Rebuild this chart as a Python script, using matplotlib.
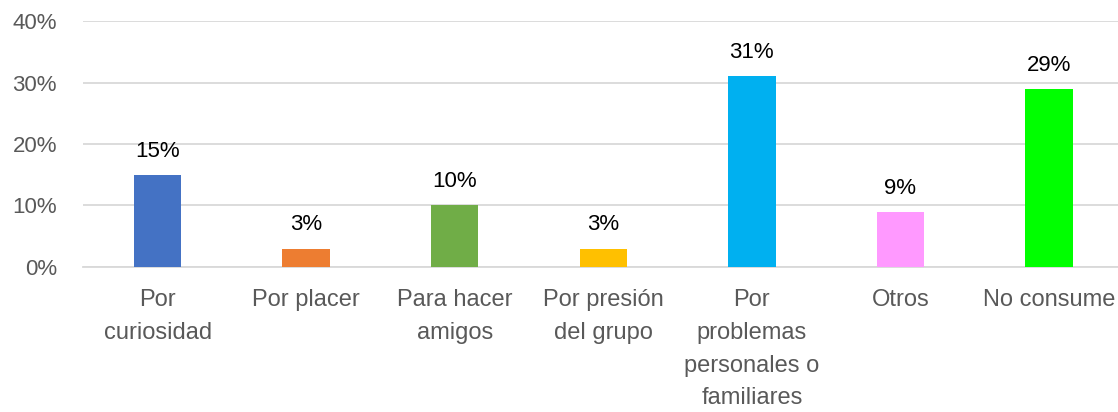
import matplotlib.pyplot as plt
from matplotlib.ticker import PercentFormatter

categories = ["Por\ncuriosidad", "Por placer", "Para hacer\namigos", "Por presión\ndel grupo",
              "Por\nproblemas\npersonales o\nfamiliares", "Otros", "No consume"]
values = [15, 3, 10, 3, 31, 9, 29]
colors = ["#4472C4", "#ED7D31", "#70AD47", "#FFC000", "#00B0F0", "#FF99FF", "#00FF00"]

plt.rcParams["font.family"] = ["Liberation Sans", "DejaVu Sans"]

fig = plt.figure(figsize=(11.18, 4.12), dpi=100)
# plot area runs a little past the right edge, as in the original
ax = fig.add_axes([0.0745, 0.352, 0.9302, 0.597])

x = range(len(categories))
bars = ax.bar(x, values, width=0.32, color=colors, zorder=3)

for xi, v in zip(x, values):
    ax.annotate("%d%%" % v, (xi, v), xytext=(0, 13), textcoords="offset points",
                ha="center", va="baseline", fontsize=16, color="#000000")

ax.set_xlim(-0.5, len(categories) - 0.5)
ax.set_ylim(0, 40)
ax.set_yticks([0, 10, 20, 30, 40])
ax.yaxis.set_major_formatter(PercentFormatter(decimals=0))
ax.grid(axis="y", color="#D9D9D9", linewidth=1.3, zorder=0)
for s in ["top", "right", "left"]:
    ax.spines[s].set_visible(False)
ax.spines["bottom"].set_color("#D9D9D9")
ax.spines["bottom"].set_linewidth(1.3)

ax.set_xticks(list(x))
ax.set_xticklabels(categories, linespacing=1.63)
ax.tick_params(axis="x", length=0, pad=16, labelsize=17, labelcolor="#595959")
ax.tick_params(axis="y", length=0, pad=19, labelsize=16, labelcolor="#595959")

fig.savefig("out.png", dpi=100)
